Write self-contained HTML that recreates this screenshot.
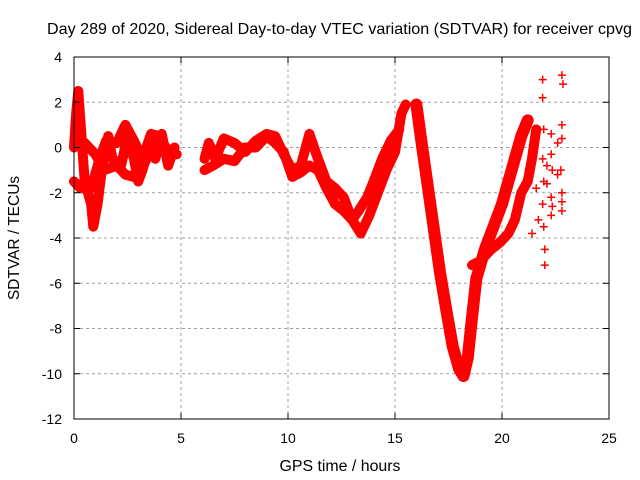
<!DOCTYPE html>
<html><head><meta charset="utf-8"><style>
body{margin:0;background:#fff}
svg{display:block;font-family:"Liberation Sans",sans-serif}
</style></head><body>
<svg id="c" width="640" height="480">
<text x="47" y="34" font-size="16" textLength="585" lengthAdjust="spacingAndGlyphs">Day 289 of 2020, Sidereal Day-to-day VTEC variation (SDTVAR) for receiver cpvg</text>
<text x="340" y="471" font-size="15.5" text-anchor="middle" textLength="121" lengthAdjust="spacingAndGlyphs">GPS time / hours</text>
<text transform="translate(19,238) rotate(-90)" font-size="15.5" text-anchor="middle">SDTVAR / TECUs</text>
<g id="grid"></g><g id="marks"></g><g id="axes"></g>
</svg>
<script>
const xTicks=[0,5,10,15,20,25];
const yTicks=[4,2,0,-2,-4,-6,-8,-10,-12];
const trackA=[[0,0],[0.1,1.5],[0.2,2.5],[0.35,0.5],[0.5,-1.5],[0.8,-2.5],[0.9,-3.5],[1.1,-2.5],[1.3,-1.0],[1.6,0.5],[1.8,-0.5],[2.2,-0.8],[2.5,0.5],[2.8,-0.5],[3.0,-1.5],[3.2,-1.0],[3.5,0.0],[3.8,-0.5],[4.1,0.6],[4.4,-0.8],[4.7,0.0]];
const trackB=[[0,-1.5],[0.3,-1.8],[0.8,-1.8],[1.2,-0.5],[1.5,0.3],[2.0,0.2],[2.4,1.0],[2.8,0.3],[3.2,-0.5],[3.6,0.6],[4.0,0.5],[4.4,-0.2],[4.8,-0.3]];
const trackC=[[0.1,0.5],[0.5,0.2],[1.0,-0.3],[1.4,-1.0],[2.0,-0.8],[2.4,-1.2],[2.8,-1.3],[3.1,-1.0],[3.4,-0.5],[3.9,0.2],[4.3,0.0]];
const trackD=[[6.1,-0.5],[6.3,0.2],[6.6,-0.5],[7.0,0.4],[7.5,0.2],[8.0,-0.2],[8.5,0.3],[9.0,0.6],[9.4,0.5],[9.8,-0.3],[10.2,-1.0],[10.6,-0.8],[11.0,0.6],[11.4,-0.5],[11.8,-1.5],[12.2,-1.8],[12.6,-2.2],[13.0,-3.2],[13.3,-2.8],[13.7,-2.2],[14.0,-1.5],[14.4,-0.5],[14.8,0.3],[15.2,0.8]];
const trackE=[[6.1,-1.0],[6.5,-0.8],[7.0,-0.5],[7.5,-0.6],[8.0,0.0],[8.5,0.0],[9.0,0.5],[9.4,0.2],[9.8,-0.2],[10.2,-1.3],[10.6,-1.1],[11.0,-0.8],[11.4,-1.0],[11.8,-1.8],[12.2,-2.5],[12.6,-2.8],[13.0,-3.2],[13.4,-3.8],[13.8,-3.0],[14.2,-2.0],[14.6,-1.0],[15.0,-0.2],[15.3,1.5],[15.5,1.9]];
const trackV=[[16.0,1.9],[16.2,0.5],[16.5,-1.5],[16.8,-3.5],[17.1,-5.5],[17.4,-7.2],[17.7,-8.8],[18.0,-9.8],[18.2,-10.1],[18.4,-9.3],[18.6,-7.5],[18.8,-5.8],[19.2,-4.5],[19.6,-3.5],[20.0,-2.5],[20.3,-1.5],[20.6,-0.5],[20.9,0.5],[21.2,1.2]];
const trackW=[[18.6,-5.2],[19.0,-5.0],[19.5,-4.5],[19.9,-4.2],[20.3,-3.8],[20.6,-3.2],[20.9,-2.0],[21.2,-1.5],[21.4,-0.5],[21.6,0.8]];
const scatterPts=[[21.9,3.0],[21.9,2.2],[21.95,0.8],[21.9,-0.5],[21.95,-1.5],[21.9,-2.5],[21.95,-3.5],[22.0,-4.5],[22.0,-5.2],[22.3,0.6],[22.3,-0.3],[22.35,-1.0],[22.3,-2.2],[22.3,-3.0],[22.35,-2.6],[22.8,3.2],[22.85,2.8],[22.8,1.0],[22.8,0.4],[22.75,-1.0],[22.8,-2.0],[22.8,-2.8],[22.8,-2.4],[21.5,0.2],[21.6,-1.8],[21.7,-3.2],[21.4,-3.8],[22.1,-0.8],[22.1,-1.6],[22.6,-1.2],[22.6,0.2]];
const X0=74,X1=609,Y0=419,Y1=57;
const xs=v=>X0+(v-0)/(25-0)*(X1-X0);
const ys=v=>Y0-(v+12)/(16)*(Y0-Y1);
const NS='http://www.w3.org/2000/svg';
function mk(tag,attrs,parent){const e=document.createElementNS(NS,tag);for(const k in attrs)e.setAttribute(k,attrs[k]);parent.appendChild(e);return e;}
const grid=document.getElementById('grid'),marks=document.getElementById('marks'),axes=document.getElementById('axes');
xTicks.forEach(t=>{const x=xs(t);
 if(t>0&&t<25){const g=mk('line',{x1:x,x2:x,y1:Y1,y2:Y0,stroke:'#a0a0a0','stroke-dasharray':'3,3'},grid);
 
 }
 const tx=mk('text',{x:x,y:Y0+24,'font-size':14,'text-anchor':'middle'},axes);tx.textContent=t;
 
 
 mk('line',{x1:x,x2:x,y1:Y0,y2:Y0-6,stroke:'#000'},axes);mk('line',{x1:x,x2:x,y1:Y1,y2:Y1+6,stroke:'#000'},axes);});
yTicks.forEach(t=>{const y=ys(t);
 if(t>-12&&t<4){const g=mk('line',{x1:X0,x2:X1,y1:y,y2:y,stroke:'#a0a0a0','stroke-dasharray':'3,3'},grid);
 
 }
 const tx=mk('text',{x:X0-12,y:y+5,'font-size':14,'text-anchor':'end'},axes);tx.textContent=t;
 
 
 mk('line',{x1:X0,x2:X0+6,y1:y,y2:y,stroke:'#000'},axes);mk('line',{x1:X1,x2:X1-6,y1:y,y2:y,stroke:'#000'},axes);});
const fr=mk('rect',{x:X0,y:Y1,width:X1-X0,height:Y0-Y1,fill:'none',stroke:'#000'},axes);


function plus(p,w){const x=xs(p[0]),y=ys(p[1]);
 const g=mk('path',{d:`M${x-4} ${y}h8M${x} ${y-4}v8`,stroke:'#f00','stroke-width':w||1.5},marks);
 
 }
[trackA,trackB,trackC,trackD,trackE,trackV,trackW].forEach((tr,i)=>{
 const pl=mk('polyline',{points:tr.map(p=>xs(p[0])+','+ys(p[1])).join(' '),fill:'none',stroke:'#f00','stroke-width':i==5?12:10,'stroke-linejoin':'round','stroke-linecap':'round'},marks);
 
 
 tr.forEach(p=>plus(p,2));});
scatterPts.forEach(p=>plus(p,1.5));
</script>
</body></html>
